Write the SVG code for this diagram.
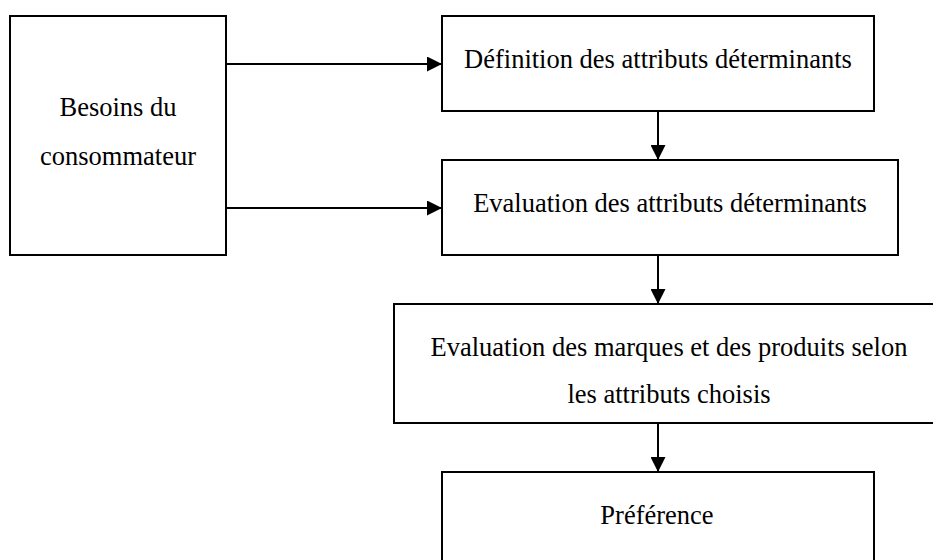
<svg xmlns="http://www.w3.org/2000/svg" width="933" height="560" viewBox="0 0 933 560">
  <defs>
    <marker id="arrow" viewBox="0 0 15 15" refX="15" refY="7.5" markerWidth="15" markerHeight="15" markerUnits="userSpaceOnUse" orient="auto">
      <path d="M0,0 L15,7.5 L0,15 Z" fill="#000"/>
    </marker>
    <style>
      .box { fill: #fff; stroke: #000; stroke-width: 2; }
      .lbl { font-family: "Liberation Serif", "Times New Roman", serif; font-size: 26.5px; fill: #000; text-anchor: middle; }
      .conn { stroke: #000; stroke-width: 2; fill: none; marker-end: url(#arrow); }
    </style>
  </defs>
  <rect width="933" height="560" fill="#fff"/>

  <g id="besoins">
    <rect class="box" x="10" y="16" width="216" height="239"/>
    <text class="lbl" x="118" y="116">Besoins du</text>
    <text class="lbl" x="118" y="165">consommateur</text>
  </g>

  <g id="definition">
    <rect class="box" x="442" y="16" width="432" height="95"/>
    <text class="lbl" x="658" y="68">Définition des attributs déterminants</text>
  </g>

  <g id="evaluation-attributs">
    <rect class="box" x="442" y="160" width="456" height="95"/>
    <text class="lbl" x="670" y="212">Evaluation des attributs déterminants</text>
  </g>

  <g id="evaluation-marques">
    <rect class="box" x="394" y="304" width="552" height="119"/>
    <text class="lbl" x="669" y="356">Evaluation des marques et des produits selon</text>
    <text class="lbl" x="669" y="403">les attributs choisis</text>
  </g>

  <g id="preference">
    <rect class="box" x="442" y="472" width="432" height="100"/>
    <text class="lbl" x="657" y="524">Préférence</text>
  </g>

  <g id="connectors">
    <line class="conn" x1="226" y1="64" x2="442" y2="64"/>
    <line class="conn" x1="226" y1="208" x2="442" y2="208"/>
    <line class="conn" x1="658" y1="111" x2="658" y2="160"/>
    <line class="conn" x1="658" y1="255" x2="658" y2="304"/>
    <line class="conn" x1="658" y1="423" x2="658" y2="472"/>
  </g>
</svg>
